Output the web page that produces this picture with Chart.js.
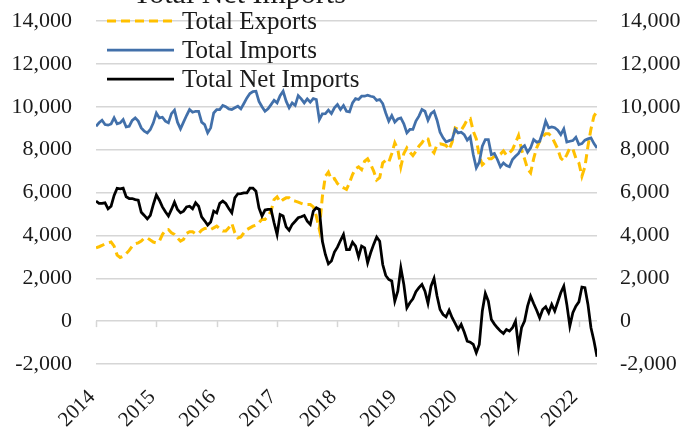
<!DOCTYPE html>
<html>
<head>
<meta charset="utf-8">
<script src="https://cdn.jsdelivr.net/npm/chart.js@4.4.1/dist/chart.umd.min.js"></script>
<style>
  html, body { margin: 0; padding: 0; background: #ffffff; }
  #wrap { width: 686px; height: 430px; }
</style>
</head>
<body>
<div id="wrap"><canvas id="c" width="686" height="430"></canvas></div>
<script>
// Sampling of the series: one value every 1/20 of a year, starting January 2014
const START_YEAR = 2014;
const PERIODS_PER_YEAR = 20;
const YEAR_TICKS = [2014, 2015, 2016, 2017, 2018, 2019, 2020, 2021, 2022];
const VALUE_TICKS = [-2000, 0, 2000, 4000, 6000, 8000, 10000, 12000, 14000];

const totalExports = [
  3420, 3470, 3530, 3610, 3650, 3690, 3500, 3080, 2970, 3030,
  3140, 3300, 3500, 3610, 3650, 3730, 3870, 3880, 3780, 3690,
  3650, 3730, 4040, 4240, 4270, 4120, 4040, 3880, 3730, 3810,
  4090, 4170, 4170, 4070, 4090, 4240, 4320, 4340, 4270, 4350,
  4430, 4310, 4200, 4200, 4350, 4560, 4120, 3880, 3930, 4120,
  4270, 4350, 4430, 4480, 4590, 4750, 4740, 4900, 5130, 5670,
  5800, 5550, 5670, 5750, 5750, 5640, 5600, 5550, 5490, 5440,
  5440, 5440, 5330, 4900, 4280, 5800, 6760, 6950, 6610, 6650,
  6420, 6290, 6220, 6140, 6450, 6840, 7110, 7200, 7070, 7460,
  7570, 7310, 7000, 6580, 6690, 7380, 7500, 7410, 7820, 8320,
  8010, 7200, 7820, 8080, 7880, 7720, 7920, 8160, 8320, 8550,
  8500, 8010, 7850, 8240, 8270, 8240, 8190, 8000, 8350, 9010,
  8940, 8910, 9130, 9400, 9450, 8860, 8500, 7700, 7290, 7410,
  7570, 7570, 7690, 7740, 7790, 7940, 7740, 7850, 8000, 8320,
  8660, 8000, 7570, 7100, 6920, 7570, 8080, 8390, 8600, 8740,
  8740, 8600, 8320, 8030, 7600, 7480, 7770, 8080, 8030, 7600,
  7380, 6760, 7200, 8160, 8960, 9560, 9790
];

const totalImports = [
  9090, 9250, 9370, 9170, 9140, 9200, 9480, 9200, 9250, 9400,
  9060, 9090, 9360, 9480, 9330, 9015, 8860, 8780, 8940, 9250,
  9710, 9480, 9510, 9330, 9250, 9680, 9840, 9280, 8970, 9280,
  9590, 9870, 9745, 9790, 9790, 9280, 9170, 8780, 9015, 9710,
  9870, 9870, 10060, 10000, 9900, 9870, 9950, 10025, 9900, 10150,
  10410, 10615, 10710, 10725, 10250, 10000, 9790, 9900, 10100, 10300,
  10180, 10520, 10725, 10260, 9950, 10180, 10060, 10520, 10370, 10180,
  10370, 10210, 10380, 10340, 9400, 9670, 9680, 9840, 9680, 9950,
  10100, 9870, 10060, 9790, 9760, 10180, 10380, 10340, 10490, 10490,
  10540, 10490, 10460, 10300, 10340, 10150, 9710, 9330, 9590, 9280,
  9430, 9480, 9200, 8780, 8940, 8940, 9330, 9560, 9870, 9790,
  9370, 9680, 9790, 9370, 8810, 8550, 8360, 8420, 8470, 8940,
  8780, 8810, 8700, 8440, 8600, 7770, 7150, 7415, 8160, 8470,
  8470, 7770, 7820, 7540, 7200, 7380, 7260, 7200, 7540, 7690,
  7820, 8080, 8190, 7880, 8080, 8470, 8350, 8390, 8810, 9330,
  9020, 9060, 9020, 8910, 8700, 8970, 8350, 8390, 8420, 8580,
  8240, 8280, 8440, 8500, 8550, 8280, 8080
];

const totalNetImports = [
  5600, 5490, 5490, 5520, 5240, 5360, 5860, 6200, 6170, 6200,
  5800, 5720, 5720, 5670, 5640, 5080, 4930, 4770, 4930, 5440,
  5890, 5640, 5330, 5100, 4900, 5210, 5550, 5210, 5050, 5130,
  5330, 5360, 5240, 5520, 5360, 4860, 4680, 4480, 4620, 5130,
  5050, 5490, 5600, 5490, 5250, 5050, 5750, 5940, 5950, 5980,
  5980, 6200, 6200, 6060, 5280, 4900, 5180, 5210, 5210, 4590,
  4040, 4970, 4900, 4400, 4240, 4510, 4660, 4820, 4870, 4930,
  4660, 4510, 5130, 5290, 5210, 3730, 3110, 2670, 2800, 3220,
  3450, 3760, 4040, 3340, 3340, 3680, 3500, 3000, 3500, 3420,
  2720, 3190, 3580, 3920, 3730, 2640, 2130, 1940, 1870, 930,
  1400, 2490, 1710, 620, 860, 1040, 1370, 1560, 1710, 1400,
  830, 1630, 1990, 1170, 545, 310, 200, 510, 160, -110,
  -390, -155, -510, -930, -980, -1085, -1470, -1085, 470, 1290,
  930, 75, -140, -310, -465, -575, -390, -465, -310, 0,
  -1200, -310, 0, 700, 1165, 825, 510, 155, 545, 670,
  390, 780, 470, 890, 1325, 1630, 780, -235, 390, 700,
  900, 1590, 1560, 780, -310, -930, -1660
];

const FONT_FAMILY = '"Liberation Serif", "Times New Roman", "DejaVu Serif", serif';
const TEXT_COLOR = '#1a1a1a';
const GRID_COLOR = '#d6d6d6';

const toPoints = (values) => values.map((v, i) => ({ x: START_YEAR + i / PERIODS_PER_YEAR, y: v }));
const lastYear = START_YEAR + (totalImports.length - 1) / PERIODS_PER_YEAR;

// Title line at the very top of the canvas
const topTitle = {
  id: 'topTitle',
  afterDraw(chart) {
    const ctx = chart.ctx;
    ctx.save();
    ctx.font = '30px ' + FONT_FAMILY;
    ctx.fillStyle = TEXT_COLOR;
    ctx.textAlign = 'left';
    ctx.textBaseline = 'alphabetic';
    ctx.fillText('Total Net Imports', 133, 3);
    ctx.restore();
  }
};

// Legend drawn over the top-left corner of the plot area
const insideLegend = {
  id: 'insideLegend',
  afterDatasetsDraw(chart) {
    const { ctx, chartArea } = chart;
    ctx.save();
    ctx.font = '25px ' + FONT_FAMILY;
    ctx.textBaseline = 'middle';
    ctx.textAlign = 'left';
    chart.data.datasets.forEach((ds, k) => {
      const y = chartArea.top + k * 29;
      ctx.beginPath();
      ctx.setLineDash(ds.borderDash || []);
      ctx.lineWidth = ds.borderWidth;
      ctx.strokeStyle = ds.borderColor;
      ctx.moveTo(chartArea.left + 11, y);
      ctx.lineTo(chartArea.left + 78, y);
      ctx.stroke();
      ctx.setLineDash([]);
      ctx.fillStyle = TEXT_COLOR;
      ctx.fillText(ds.label, chartArea.left + 86, y + 1);
    });
    ctx.restore();
  }
};

// Year tick marks hanging from the zero line
const zeroLineTicks = {
  id: 'zeroLineTicks',
  beforeDatasetsDraw(chart) {
    const { ctx } = chart;
    const xs = chart.scales.x;
    const y0 = chart.scales.y.getPixelForValue(0);
    ctx.save();
    ctx.strokeStyle = GRID_COLOR;
    ctx.lineWidth = 1.5;
    xs.ticks.forEach(t => {
      const px = Math.round(xs.getPixelForValue(t.value)) + 0.5;
      ctx.beginPath();
      ctx.moveTo(px, y0);
      ctx.lineTo(px, y0 + 6);
      ctx.stroke();
    });
    ctx.restore();
  }
};

const valueTickOptions = (pad) => ({
  font: { family: FONT_FAMILY, size: 22 },
  color: TEXT_COLOR,
  padding: pad,
  stepSize: 2000,
  callback: (v) => Number(v).toLocaleString('en-US')
});

// Fixed axis band sizes; the value labels may overhang the plot edges
const fixVerticalAxis = (width) => (s) => {
  s.width = width;
  s.paddingTop = 0;
  s.paddingBottom = 0;
};

new Chart(document.getElementById('c'), {
  type: 'line',
  data: {
    datasets: [
      {
        label: 'Total Exports',
        data: toPoints(totalExports),
        borderColor: '#ffc000',
        borderWidth: 3,
        borderDash: [9, 5],
        pointRadius: 0,
        tension: 0,
        order: 2,
        yAxisID: 'y'
      },
      {
        label: 'Total Imports',
        data: toPoints(totalImports),
        borderColor: '#4270aa',
        borderWidth: 2.75,
        pointRadius: 0,
        tension: 0,
        order: 1,
        yAxisID: 'y'
      },
      {
        label: 'Total Net Imports',
        data: toPoints(totalNetImports),
        borderColor: '#000000',
        borderWidth: 2.75,
        pointRadius: 0,
        tension: 0,
        order: 0,
        yAxisID: 'y'
      }
    ]
  },
  options: {
    responsive: false,
    animation: false,
    events: [],
    layout: { padding: { top: 21, left: 0, right: 0, bottom: 0 } },
    plugins: {
      legend: { display: false },
      title: { display: false },
      tooltip: { enabled: false }
    },
    scales: {
      x: {
        type: 'linear',
        min: START_YEAR,
        max: lastYear,
        grid: { display: false },
        border: { display: false },
        afterFit: (s) => { s.height = 66; },
        afterBuildTicks: (s) => { s.ticks = YEAR_TICKS.map(v => ({ value: v })); },
        ticks: {
          font: { family: FONT_FAMILY, size: 21 },
          color: TEXT_COLOR,
          minRotation: 45,
          maxRotation: 45,
          autoSkip: false,
          padding: 13,
          labelOffset: -4,
          callback: (v) => String(v)
        }
      },
      y: {
        position: 'left',
        min: -2000,
        max: 14000,
        afterFit: fixVerticalAxis(96),
        afterBuildTicks: (s) => { s.ticks = VALUE_TICKS.map(v => ({ value: v })); },
        grid: { color: GRID_COLOR, lineWidth: 1.5, drawTicks: false },
        border: { display: false },
        ticks: valueTickOptions(24)
      },
      y2: {
        position: 'right',
        min: -2000,
        max: 14000,
        afterFit: fixVerticalAxis(89),
        afterBuildTicks: (s) => { s.ticks = VALUE_TICKS.map(v => ({ value: v })); },
        grid: { drawOnChartArea: false, drawTicks: false },
        border: { display: false },
        ticks: valueTickOptions(23)
      }
    }
  },
  plugins: [zeroLineTicks, insideLegend, topTitle]
});
</script>
</body>
</html>
